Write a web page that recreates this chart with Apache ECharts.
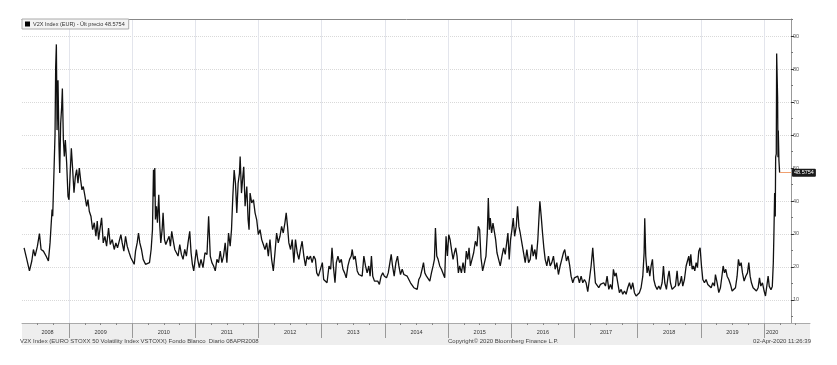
<!DOCTYPE html>
<html>
<head>
<meta charset="utf-8">
<script src="https://cdn.jsdelivr.net/npm/echarts@6/dist/echarts.min.js"></script>
<style>html,body{margin:0;padding:0;background:#fff;}#c{width:837px;height:365px;}</style>
</head>
<body>
<div id="c"></div>
<script>
// Fractional-year dates and V2X closing levels
const yearsA = [2008.289,2008.332,2008.374,2008.411,2008.437,2008.463,2008.500,2008.532,2008.558,2008.595,2008.637,2008.674,2008.700,2008.716,2008.732,2008.742,2008.763,2008.779,2008.789,2008.800,2008.811,2008.826,2008.842,2008.853,2008.868,2008.884,2008.895,2008.911,2008.926,2008.942,2008.963,2008.984,2009.000,2009.021,2009.037,2009.058,2009.079,2009.100,2009.121,2009.142,2009.163,2009.184,2009.205,2009.226,2009.253,2009.279,2009.300,2009.321,2009.347,2009.374,2009.400,2009.426,2009.447,2009.468,2009.489,2009.516,2009.542,2009.568,2009.595,2009.626,2009.653,2009.684,2009.716,2009.742,2009.768,2009.795,2009.821,2009.842,2009.868,2009.895,2009.921,2009.953,2009.979,2010.005,2010.032,2010.053,2010.079,2010.100,2010.121,2010.147,2010.174,2010.211,2010.242,2010.274,2010.300,2010.321,2010.337,2010.347,2010.358,2010.368,2010.384,2010.400,2010.421,2010.437,2010.453,2010.474,2010.489,2010.511,2010.532,2010.558,2010.584,2010.605,2010.626,2010.647,2010.674,2010.700,2010.726,2010.753,2010.779,2010.805,2010.832,2010.858,2010.884,2010.911,2010.932,2010.953,2010.974];
const valuesA = [25.8,22.3,18.8,21.8,25.3,23.3,26.3,30.1,25.3,24.8,23.3,21.8,27.3,32.4,37.4,35.4,49.5,60.5,80.6,87.5,61.5,76.6,56.5,48.5,63.5,68.6,74.1,58.5,53.5,58.5,51.5,41.4,40.4,49.5,56.0,49.5,42.5,47.4,49.5,45.4,50.0,46.4,43.4,44.4,41.4,38.4,40.4,36.9,35.4,31.3,33.4,29.3,33.9,28.3,31.3,34.9,27.3,29.3,26.3,31.8,26.8,28.3,25.3,27.3,25.8,25.3,29.8,27.3,24.8,29.3,26.3,24.3,22.8,23.3,20.8,24.8,27.3,30.3,27.3,25.3,22.3,20.8,20.3,21.3,25.3,31.3,49.5,41.4,50.0,34.4,38.4,33.4,41.9,32.4,27.3,31.3,36.4,28.3,26.8,26.3,29.3,26.3,30.8,28.3,25.3,25.8,23.3,26.8,23.8,22.3,25.3,23.3,27.3,30.8,24.3,20.8,18.8];

const yearsB = [2011.016,2011.037,2011.063,2011.089,2011.121,2011.152,2011.184,2011.210,2011.236,2011.262,2011.289,2011.315,2011.341,2011.367,2011.394,2011.420,2011.446,2011.472,2011.499,2011.525,2011.551,2011.572,2011.593,2011.614,2011.635,2011.656,2011.677,2011.698,2011.709,2011.730,2011.751,2011.766,2011.787,2011.814,2011.835,2011.850,2011.866,2011.892,2011.919,2011.945,2011.971,2011.997,2012.024,2012.050,2012.076,2012.102,2012.129,2012.155,2012.181,2012.207,2012.234,2012.260,2012.286,2012.312,2012.339,2012.365,2012.391,2012.417,2012.438,2012.459,2012.480,2012.507,2012.533,2012.559,2012.585,2012.612,2012.638,2012.664,2012.690,2012.717,2012.743,2012.769,2012.795,2012.822,2012.848,2012.874,2012.900,2012.921,2012.948,2012.979,2013.010,2013.031,2013.058,2013.084,2013.115,2013.142,2013.163,2013.184,2013.210,2013.231,2013.257,2013.283,2013.310,2013.336,2013.362,2013.388,2013.415,2013.441,2013.467,2013.483,2013.504,2013.530,2013.562,2013.588,2013.614,2013.640,2013.667,2013.693,2013.719,2013.745,2013.766,2013.787,2013.808,2013.835,2013.861,2013.887,2013.913,2013.940,2013.966,2013.992];
const valuesB = [25.3,22.3,19.8,22.3,19.8,24.3,23.8,35.4,23.3,21.3,20.3,18.8,22.3,21.3,24.8,21.3,23.3,27.3,21.3,30.3,26.3,31.3,41.4,49.4,45.4,36.4,45.4,48.4,53.5,42.4,47.4,50.4,38.4,44.4,34.3,31.3,42.4,39.4,40.4,36.4,34.3,29.8,31.3,28.3,26.8,25.3,27.3,23.3,28.3,22.3,18.8,24.3,30.3,27.3,29.3,32.3,30.3,33.3,36.4,32.3,27.3,25.3,28.3,21.3,28.3,24.3,22.3,25.3,27.8,23.3,20.3,23.3,22.3,23.3,21.3,23.3,22.3,18.2,17.2,17.2,21.3,16.2,15.7,15.2,20.3,19.3,25.8,20.3,15.2,21.3,23.3,21.3,22.3,19.3,18.2,16.7,20.3,22.3,23.3,25.3,22.3,23.3,18.8,17.7,18.2,17.2,23.3,20.3,18.2,20.3,17.2,23.3,17.2,15.7,16.2,15.7,14.7,17.2,18.2,17.2];

const yearsC = [2014.026,2014.053,2014.079,2014.100,2014.121,2014.147,2014.174,2014.200,2014.221,2014.247,2014.274,2014.300,2014.326,2014.353,2014.379,2014.405,2014.432,2014.458,2014.484,2014.511,2014.537,2014.563,2014.589,2014.611,2014.632,2014.658,2014.684,2014.711,2014.737,2014.763,2014.784,2014.800,2014.821,2014.842,2014.868,2014.895,2014.921,2014.947,2014.968,2014.989,2015.011,2015.032,2015.058,2015.079,2015.100,2015.121,2015.142,2015.163,2015.184,2015.211,2015.237,2015.263,2015.289,2015.311,2015.332,2015.353,2015.379,2015.405,2015.432,2015.458,2015.479,2015.500,2015.521,2015.547,2015.574,2015.600,2015.621,2015.637,2015.653,2015.668,2015.689,2015.711,2015.732,2015.753,2015.774,2015.800,2015.826,2015.853,2015.879,2015.905,2015.926,2015.947,2015.968,2015.989,2016.011,2016.032,2016.053,2016.079,2016.100,2016.121,2016.142,2016.168,2016.195,2016.221,2016.247,2016.274,2016.300,2016.326,2016.347,2016.374,2016.395,2016.421,2016.437,2016.453,2016.474,2016.495,2016.516,2016.537,2016.563,2016.589,2016.616,2016.642,2016.668,2016.695,2016.721,2016.747,2016.774,2016.800,2016.826,2016.847,2016.874,2016.900,2016.926,2016.947,2016.974,2017.000];
const valuesC = [16.7,18.2,21.3,23.8,20.3,17.2,21.3,23.3,20.3,17.7,19.3,17.7,18.2,17.2,16.7,15.2,15.2,13.7,14.2,13.2,16.2,17.2,19.3,21.3,18.2,17.2,17.7,15.7,18.2,20.3,22.3,31.8,23.3,22.3,20.3,19.3,19.8,16.7,29.3,23.3,29.8,28.3,24.8,22.3,24.3,25.8,23.3,18.2,20.3,18.2,21.3,18.2,24.8,22.3,25.8,20.3,22.3,24.3,27.8,26.3,32.3,31.3,22.8,18.8,18.2,23.3,30.3,40.9,31.3,34.8,30.3,33.3,33.8,28.3,24.3,22.3,20.3,23.3,25.8,23.8,24.3,30.3,22.3,28.3,31.3,34.8,29.3,32.3,38.4,32.3,30.3,27.3,24.3,21.3,25.3,21.3,22.3,26.8,23.3,25.3,22.3,28.3,34.3,39.9,35.4,30.3,25.8,22.3,20.3,23.3,20.3,21.3,23.3,19.3,21.3,17.7,20.3,22.3,24.3,25.3,21.8,23.3,20.3,17.2,15.2,16.7];

const yearsD = [2017.026,2017.053,2017.079,2017.106,2017.132,2017.158,2017.185,2017.211,2017.237,2017.264,2017.290,2017.311,2017.332,2017.359,2017.385,2017.412,2017.438,2017.464,2017.491,2017.517,2017.544,2017.570,2017.596,2017.617,2017.639,2017.660,2017.686,2017.712,2017.739,2017.765,2017.792,2017.818,2017.844,2017.871,2017.897,2017.923,2017.950,2017.976,2018.003,2018.029,2018.055,2018.082,2018.103,2018.113,2018.129,2018.150,2018.172,2018.193,2018.214,2018.235,2018.256,2018.282,2018.309,2018.335,2018.361,2018.388,2018.409,2018.430,2018.456,2018.483,2018.499,2018.520,2018.546,2018.573,2018.599,2018.625,2018.646,2018.673,2018.694,2018.715,2018.741,2018.768,2018.789,2018.810,2018.826,2018.842,2018.863,2018.884,2018.905,2018.926,2018.947,2018.968,2018.989,2019.011,2019.032,2019.058,2019.084,2019.111,2019.137,2019.164,2019.190,2019.216,2019.232,2019.259,2019.285,2019.311,2019.338,2019.354,2019.375,2019.396,2019.417,2019.443,2019.470,2019.496,2019.522,2019.549,2019.575,2019.596,2019.617,2019.639,2019.660,2019.686,2019.712,2019.739,2019.760,2019.781,2019.802,2019.828,2019.855,2019.881,2019.908,2019.929,2019.950,2019.976,2020.003,2020.024,2020.045,2020.066];
const valuesD = [16.2,17.2,15.2,17.2,15.2,16.2,15.2,12.5,16.2,20.3,25.8,20.3,15.2,15.7,13.7,14.7,14.2,15.2,14.2,17.2,13.2,14.7,13.2,19.3,17.2,18.2,15.2,12.2,13.2,11.7,12.7,11.7,13.7,15.2,13.2,15.2,12.2,11.2,11.7,12.2,13.7,17.2,24.3,34.8,23.3,18.2,20.3,17.2,20.3,22.3,16.2,14.2,13.2,14.2,13.2,15.2,20.3,15.2,13.2,17.2,18.8,15.2,13.2,12.7,14.2,18.8,14.2,15.2,17.2,14.2,16.2,20.3,21.8,23.3,20.3,23.8,19.3,20.3,18.8,21.3,19.8,24.8,25.8,20.3,16.2,15.2,16.2,14.7,15.2,13.7,15.2,14.2,17.7,15.2,12.2,13.7,17.7,20.3,18.2,19.3,17.2,16.2,14.7,12.7,13.2,13.7,17.2,22.3,20.3,21.3,18.2,15.7,17.2,18.2,21.3,17.2,15.2,13.7,13.2,12.7,13.7,16.7,14.2,15.2,12.7,11.2,14.2,17.2];

const yearsE = [2020.084,2020.111,2020.132,2020.148,2020.158,2020.169,2020.179,2020.185,2020.195,2020.201,2020.211,2020.216,2020.222,2020.227,2020.237,2020.248];
const valuesE = [14.1,13.1,14.1,21.3,30.4,42.4,35.3,53.3,54.3,84.7,85.2,71.5,53.3,61.4,52.3,48.5754];

const lastValue = 48.5754;
const lastLabel = '48.5754';
const seriesName = 'V2X Index (EUR) - Últ precio 48.5754';
const yearBoundaries = [2009,2010,2011,2012,2013,2014,2015,2016,2017,2018,2019,2020];
const yearLabelPos = [2008.66,2009.5,2010.5,2011.5,2012.5,2013.5,2014.5,2015.5,2016.5,2017.5,2018.5,2019.5,2020.13];
const yTickValues = [10,20,30,40,50,60,70,80,90];
const yMinorValues = [5,15,25,35,45,55,65,75,85,95];
const footerLeft = 'V2X Index (EURO STOXX 50 Volatility Index VSTOXX) Fondo Blanco  Diario 08APR2008';
const footerMid = 'Copyright\u00a9 2020 Bloomberg Finance L.P.';
const footerRight = '02-Apr-2020 11:26:39';

const xMin = 2008.256, xMax = 2020.428, xMaxBand = 2020.728;
const quarterTicks = [];
for (let y = 2008; y <= 2020; y++) for (let q = 1; q < 4; q++) {
  const v = y + q * 0.25;
  if (v > xMin && v < xMaxBand) quarterTicks.push(v);
}

const years = [].concat(yearsA, yearsB, yearsC, yearsD, yearsE);
const values = [].concat(valuesA, valuesB, valuesC, valuesD, valuesE);
const data = years.map((y, i) => [y, values[i]]);

const FONT = 'Liberation Sans';
const chart = echarts.init(document.getElementById('c'), null, {renderer: 'canvas'});
chart.setOption({
  animation: false,
  backgroundColor: '#ffffff',
  title: [
    {text: footerLeft, left: 20, top: 338, padding: 0, textStyle: {fontSize: 6, fontWeight: 'normal', color: '#444', fontFamily: FONT}},
    {text: footerMid, left: 448, top: 338, padding: 0, textStyle: {fontSize: 6, fontWeight: 'normal', color: '#444', fontFamily: FONT}},
    {text: footerRight, right: 26, top: 338, padding: 0, textStyle: {fontSize: 6, fontWeight: 'normal', color: '#444', fontFamily: FONT}}
  ],
  legend: {
    left: 22, top: 19, padding: [2, 4, 2, 3], itemWidth: 5, itemHeight: 5, itemGap: 3,
    icon: 'rect', backgroundColor: '#f4f4f4', borderColor: '#aaaaaa', borderWidth: 1,
    textStyle: {fontSize: 5.5, color: '#333', fontFamily: FONT, padding: [0, 0, 0, -2]},
    data: [{name: seriesName, itemStyle: {color: '#000'}}]
  },
  grid: [
    {left: 22, top: 19, width: 769, height: 304},
    {left: 22, top: 323, width: 788, height: 22, show: true, backgroundColor: '#eeeeee', borderWidth: 0}
  ],
  xAxis: [
    {type: 'value', gridIndex: 0, position: 'top', min: xMin, max: xMax,
     axisLine: {show: true, onZero: false, lineStyle: {color: '#888', width: 1}},
     axisTick: {show: false, customValues: yearBoundaries},
     axisLabel: {show: false, customValues: yearBoundaries},
     splitLine: {show: true, lineStyle: {color: '#e3e5ec', width: 1}}},
    {type: 'value', gridIndex: 1, position: 'top', min: xMin, max: xMaxBand,
     axisLine: {show: true, onZero: false, lineStyle: {color: '#aaa', width: 1}},
     axisTick: {show: true, inside: true, length: 15, customValues: yearBoundaries, lineStyle: {color: '#999'}},
     axisLabel: {show: true, inside: true, margin: 6, customValues: yearLabelPos,
       formatter: v => String(Math.floor(v)), fontSize: 5.5, color: '#333', fontFamily: FONT},
     splitLine: {show: false}},
    {type: 'value', gridIndex: 1, position: 'top', offset: 0, min: xMin, max: xMaxBand,
     axisLine: {show: false, onZero: false},
     axisTick: {show: true, inside: true, length: 2, customValues: quarterTicks, lineStyle: {color: '#888'}},
     axisLabel: {show: false}, splitLine: {show: false}}
  ],
  yAxis: [
    {type: 'value', gridIndex: 0, position: 'right', min: 3, max: 95.2,
     axisLine: {show: true, onZero: false, lineStyle: {color: '#999', width: 1}},
     axisTick: {show: true, length: 3, customValues: yTickValues, lineStyle: {color: '#333'}},
     axisLabel: {show: true, margin: 2, customValues: yTickValues, fontSize: 5.5, color: '#555', fontFamily: FONT},
     splitLine: {show: true, lineStyle: {color: '#d9d9d9', type: [1, 1], width: 1}}},
    {type: 'value', gridIndex: 0, position: 'right', min: 3, max: 95.2,
     axisLine: {show: false, onZero: false},
     axisTick: {show: true, length: 2, customValues: yMinorValues, lineStyle: {color: '#777'}},
     axisLabel: {show: false}, splitLine: {show: false}},
    {type: 'value', gridIndex: 1, show: false, min: 0, max: 1}
  ],
  series: [{
    name: seriesName, type: 'line', xAxisIndex: 0, yAxisIndex: 0,
    data: data, showSymbol: false, symbol: 'none',
    lineStyle: {color: '#111', width: 1.3}, itemStyle: {color: '#000'},
    markLine: {
      silent: true, symbol: 'none',
      lineStyle: {color: '#f0a070', width: 1, type: 'solid'},
      label: {show: true, position: 'end', formatter: lastLabel, distance: 1,
        backgroundColor: '#1a1a1a', color: '#fff', fontSize: 5.5, padding: [1, 2], borderRadius: 1, fontFamily: FONT},
      data: [[{coord: [yearsE[yearsE.length - 1], lastValue]}, {coord: [xMax, lastValue]}]]
    }
  }]
});
</script>
</body>
</html>
